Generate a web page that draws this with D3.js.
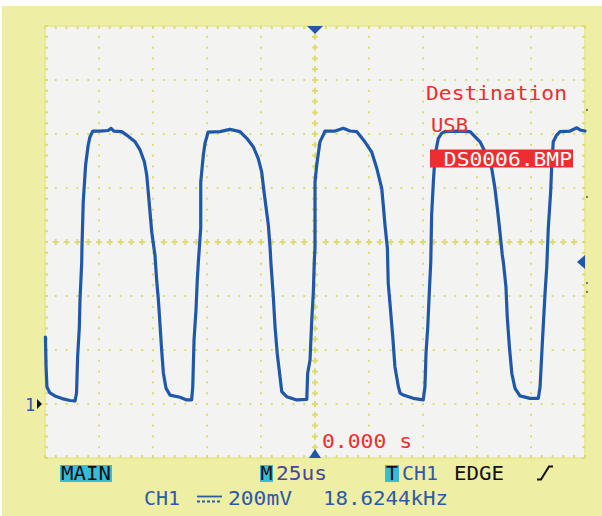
<!DOCTYPE html>
<html><head><meta charset="utf-8">
<script src="https://cdn.jsdelivr.net/npm/d3@7"></script>
<style>
html,body{margin:0;padding:0;background:#fff;}
svg{display:block;}
text{font-family:"DejaVu Sans Mono","Liberation Mono",monospace;}
</style></head>
<body>
<svg id="c" width="602" height="516"></svg>
<script>
// ---- data (time in microseconds, voltage in mV) ----
const timeUs = [-124.8,-124.5,-124.1,-122.7,-120.4,-117.1,-113.4,-111.1,-110.4,-109.9,-109.1,-108.8,-108.0,-107.9,-107.3,-106.2,-105.0,-104.2,-102.8,-99.5,-95.8,-94.4,-93.1,-89.5,-87.2,-83.3,-81.0,-79.0,-77.9,-77.2,-76.4,-75.6,-74.1,-73.3,-72.5,-71.8,-71.0,-70.2,-69.0,-67.1,-62.5,-59.4,-57.1,-56.6,-56.0,-55.1,-54.5,-54.0,-52.9,-52.9,-51.7,-50.9,-50.1,-49.5,-44.0,-39.4,-34.7,-31.6,-28.6,-26.3,-24.7,-23.6,-22.4,-21.6,-20.8,-20.4,-19.3,-18.5,-17.5,-16.2,-15.4,-13.1,-8.5,-3.8,-3.4,-2.3,-1.5,-0.8,-0.3,0.0,0.0,0.8,2.3,3.8,4.6,9.3,13.1,16.2,19.3,23.1,26.2,28.6,30.9,31.6,32.4,33.5,33.9,34.7,36.0,37.0,38.6,39.4,40.9,45.5,50.1,50.9,51.4,52.2,52.9,53.6,54.0,54.8,55.6,57.1,58.7,60.2,66.2,71.8,76.4,78.7,81.8,83.3,84.6,85.6,86.7,87.2,88.4,89.0,90.0,91.1,92.6,94.9,99.5,103.4,104.2,105.4,106.5,107.3,108.0,109.1,109.6,110.3,111.9,113.4,118.1,121.2,122.7,125.0];
const voltMv = [248,137,63,41,30,20,13,11,41,174,285,385,526,578,748,885,959,989,1011,1011,1013,1021,1011,1009,996,971,941,897,848,786,712,638,552,459,385,300,200,115,59,33,25,15,15,63,237,348,459,526,652,822,922,967,989,1007,1009,1017,1009,984,953,910,860,786,712,663,578,522,397,286,188,101,46,27,15,17,114,163,311,410,533,578,822,885,971,996,1011,1011,1021,1011,1009,971,934,873,799,737,663,578,448,374,249,138,64,40,33,21,15,64,188,286,410,526,700,823,922,984,1003,1009,1011,1009,971,934,873,799,712,638,552,526,434,323,212,114,58,30,21,21,64,249,410,509,651,786,885,971,996,1009,1011,1023,1015,1011];

const timeDomain = [-125, 125];      // 10 div x 25 us
const voltDomain = [-200, 1400];     // 8 div x 200 mV, ground 1 div above bottom
const timePerDiv = 25, voltPerDiv = 200;
const triggerLevelMv = 526;
const edgeDotsMv = [1089, 767, 448, 415];

const overlayTexts = ["Destination", "USB", " DS0006.BMP", "0.000 s"];
const statusLine1 = {main:"MAIN", m:"M", timebase:"25us", t:"T", src:"CH1", mode:"EDGE"};
const statusLine2 = {ch:"CH1", scale:"200mV", freq:"18.6244kHz"};

// ---- drawing ----
const svg = d3.select("#c");
const W = 602, H = 516;
const L = 45, R = 585, T = 26, B = 458;
const x = d3.scaleLinear().domain(timeDomain).range([L, R]);
const y = d3.scaleLinear().domain(voltDomain).range([B, T]);

const YEL = "#eeeea4", SCREEN = "#f3f3f1", DOT = "#dcdc72", BLUE = "#1f58a8", RED = "#ee2e2e", CYAN = "#36bcd8", TXTBLUE = "#2c5aa8";

svg.append("rect").attr("x",2).attr("y",6).attr("width",W-2).attr("height",H-6).attr("fill",YEL);
svg.append("rect").attr("x",L).attr("y",T).attr("width",R-L).attr("height",B-T).attr("fill",SCREEN);

const g = svg.append("g");
const majT = d3.range(timeDomain[0], timeDomain[1]+0.01, timePerDiv);
const majV = d3.range(voltDomain[0], voltDomain[1]+0.01, voltPerDiv);
const minT = d3.range(timeDomain[0], timeDomain[1]+0.01, timePerDiv/5);
const minV = d3.range(voltDomain[0], voltDomain[1]+0.01, voltPerDiv/5);
const centerT = 0, centerV = 600;

// dotted grid lines
majT.forEach(t => {
  if (t === timeDomain[0] || t === timeDomain[1] || t === centerT) return;
  minV.forEach(v => g.append("rect").attr("x",x(t)-1).attr("y",y(v)-1).attr("width",2).attr("height",2).attr("fill",DOT));
});
majV.forEach(v => {
  if (v === voltDomain[0] || v === voltDomain[1] || v === centerV) return;
  minT.forEach(t => g.append("rect").attr("x",x(t)-1).attr("y",y(v)-1).attr("width",2).attr("height",2).attr("fill",DOT));
});
// center crosses
minV.forEach(v => {
  if (v === voltDomain[0] || v === voltDomain[1]) return;
  g.append("path").attr("d",`M${x(centerT)-3},${y(v)}h6M${x(centerT)},${y(v)-3}v6`).attr("stroke",DOT).attr("stroke-width",2);
});
minT.forEach(t => {
  if (t === timeDomain[0] || t === timeDomain[1]) return;
  g.append("path").attr("d",`M${x(t)-3},${y(centerV)}h6M${x(t)},${y(centerV)-3}v6`).attr("stroke",DOT).attr("stroke-width",2);
});
// border + edge ticks
g.append("rect").attr("x",L).attr("y",T).attr("width",R-L).attr("height",B-T).attr("fill","none").attr("stroke","#e6e690").attr("stroke-width",1.5);
minT.forEach(t => {
  g.append("rect").attr("x",x(t)-1).attr("y",T).attr("width",2).attr("height",3).attr("fill",DOT);
  g.append("rect").attr("x",x(t)-1).attr("y",B-3).attr("width",2).attr("height",3).attr("fill",DOT);
});
minV.forEach(v => {
  g.append("rect").attr("x",L).attr("y",y(v)-1).attr("width",3).attr("height",2).attr("fill",DOT);
  g.append("rect").attr("x",R-3).attr("y",y(v)-1).attr("width",3).attr("height",2).attr("fill",DOT);
});

// trace
const pts = timeUs.map((t,i)=>[t, voltMv[i]]);
svg.append("path").datum(pts)
  .attr("d", d3.line().x(d=>x(d[0])).y(d=>y(d[1])))
  .attr("fill","none").attr("stroke",BLUE).attr("stroke-width",3.2)
  .attr("stroke-linejoin","round").attr("stroke-linecap","round");

// markers
const cx = x(0);
svg.append("path").attr("d",`M${cx-8},${T}L${cx+8},${T}L${cx},${T+8}Z`).attr("fill",BLUE);
svg.append("path").attr("d",`M${cx-6},${B}L${cx+6},${B}L${cx},${B-9}Z`).attr("fill",BLUE);
const ty = y(triggerLevelMv);
svg.append("path").attr("d",`M${R},${ty-7}L${R},${ty+7}L${R-8},${ty}Z`).attr("fill",BLUE);
edgeDotsMv.forEach(v=>svg.append("rect").attr("x",R+1).attr("y",y(v)-1).attr("width",2).attr("height",2).attr("fill","#777"));
// channel ground marker
svg.append("text").attr("x",25).attr("y",y(0)+7).attr("font-size",17).attr("fill",TXTBLUE).text("1");
svg.append("path").attr("d",`M${37},${y(0)-5}L${37},${y(0)+5}L${42},${y(0)}Z`).attr("fill","#111");

// overlay texts
function txt(s, xx, yy, w, col, size){
  return svg.append("text").attr("x",xx).attr("y",yy).attr("font-size",size||20).attr("fill",col)
    .attr("textLength",w).attr("lengthAdjust","spacingAndGlyphs").attr("xml:space","preserve").text(s);
}
txt(overlayTexts[0], 426, 100, 141, RED);
txt(overlayTexts[1], 431, 131.5, 37, RED);
svg.append("rect").attr("x",430).attr("y",149.5).attr("width",143).attr("height",18).attr("fill",RED);
txt(overlayTexts[2], 431, 166, 141, "#fff");
txt(overlayTexts[3], 322, 448, 90, RED, 19);

// status bar line 1
svg.append("rect").attr("x",60).attr("y",465).attr("width",52).attr("height",17).attr("fill",CYAN);
txt(statusLine1.main, 61, 480, 50, "#111", 19);
svg.append("rect").attr("x",260).attr("y",465).attr("width",13).attr("height",17).attr("fill",CYAN);
txt(statusLine1.m, 260.5, 480, 12, "#111", 19);
txt(statusLine1.timebase, 276, 480, 51, "#474796", 19);
svg.append("rect").attr("x",385).attr("y",465).attr("width",14).attr("height",17).attr("fill",CYAN);
txt(statusLine1.t, 386, 480, 12, "#111", 19);
txt(statusLine1.src, 402, 480, 36, TXTBLUE, 19);
txt(statusLine1.mode, 454, 480, 50, "#111", 19);
svg.append("path").attr("d","M537,479.5h4l8,-13h4").attr("fill","none").attr("stroke","#111").attr("stroke-width",2);

// status bar line 2
txt(statusLine2.ch, 144, 505, 36, TXTBLUE, 19);
svg.append("path").attr("d","M197,496.5h25").attr("stroke",TXTBLUE).attr("stroke-width",1.8);
svg.append("path").attr("d","M197,501.5h25").attr("stroke",TXTBLUE).attr("stroke-width",1.8).attr("stroke-dasharray","3,2");
txt(statusLine2.scale, 228, 505, 64, TXTBLUE, 19);
txt(statusLine2.freq, 323, 505, 125, TXTBLUE, 19);
</script>
</body></html>
